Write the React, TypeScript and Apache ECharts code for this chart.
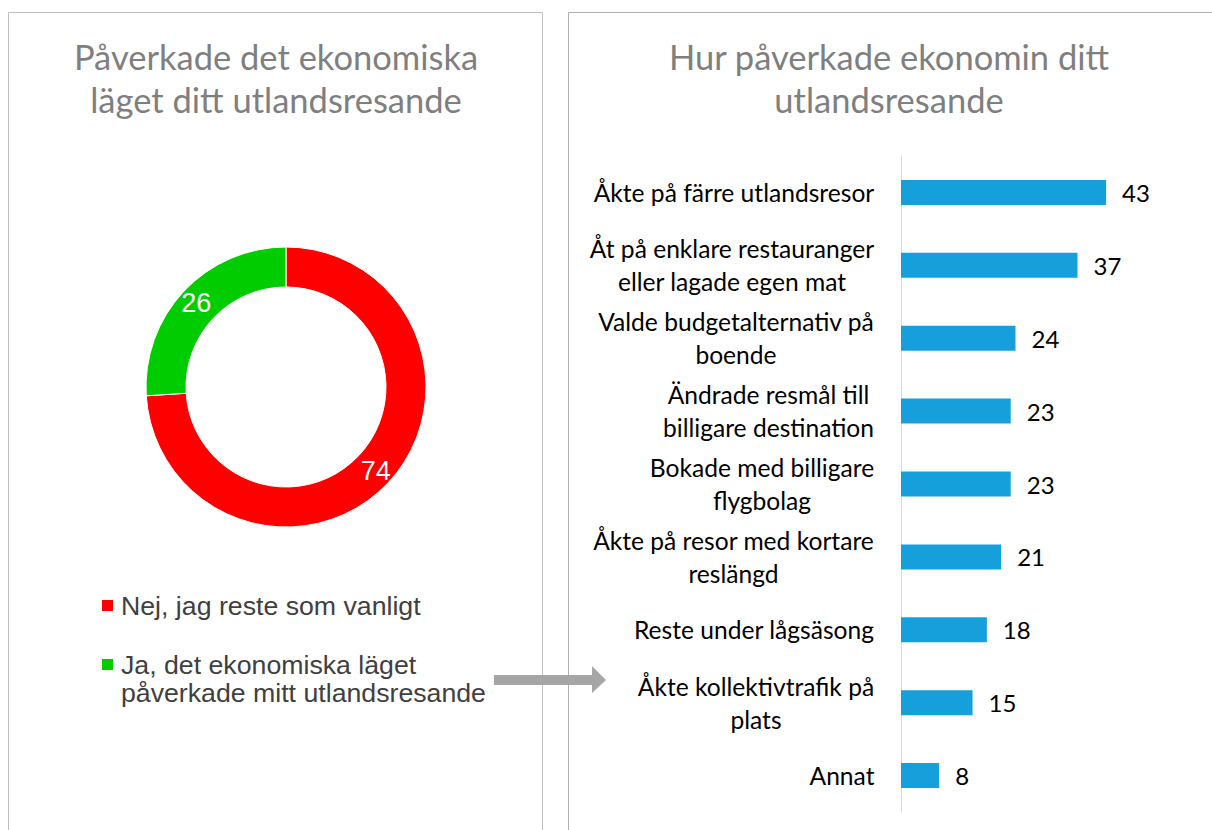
import React, { useEffect, useRef } from "react";
import * as echarts from "echarts";

const categories: string[] = [
  "Åkte på färre utlandsresor",
  "Åt på enklare restauranger\neller lagade egen mat",
  "Valde budgetalternativ på\nboende",
  "Ändrade resmål till\nbilligare destination",
  "Bokade med billigare\nflygbolag",
  "Åkte på resor med kortare\nreslängd",
  "Reste under lågsäsong",
  "Åkte kollektivtrafik på\nplats",
  "Annat",
];
const barValues: number[] = [43, 37, 24, 23, 23, 21, 18, 15, 8];

const pieNames: string[] = [
  "Nej, jag reste som vanligt",
  "Ja, det ekonomiska läget\npåverkade mitt utlandsresande",
];
const pieValues: number[] = [74, 26];
const pieColors: string[] = ["#ff0000", "#00cc00"];

const leftTitle = "Påverkade det ekonomiska\nläget ditt utlandsresande";
const rightTitle = "Hur påverkade ekonomin ditt\nutlandsresande";

const CAL = "Lato";
const ARIAL = "'Liberation Sans', Arial";
const CAT_FS = 24.6;

export default function App() {
  const ref = useRef<HTMLDivElement>(null);
  useEffect(() => {
    document.body.style.margin = "0";
    const chart = echarts.init(ref.current!, null, { renderer: "svg" });

    const ctx = document.createElement("canvas").getContext("2d")!;
    ctx.font = `${CAT_FS}px ${CAL}`;
    const rich: Record<string, any> = {};
    categories.forEach((c, i) => {
      const w = Math.max(...c.split("\n").map((l) => ctx.measureText(l).width));
      rich["c" + i] = {
        width: Math.ceil(w) + 1,
        align: "center",
        fontSize: CAT_FS,
        fontFamily: CAL,
        color: "#000000",
        lineHeight: 33,
      };
    });

    const legendItems: any[] = [];
    const legendY = [606, 665];
    pieNames.forEach((n, i) => {
      legendItems.push({
        type: "rect",
        shape: { x: 102, y: legendY[i] - 6, width: 11, height: 11 },
        style: { fill: pieColors[i] },
      });
      legendItems.push({
        type: "text",
        x: 121,
        y: legendY[i] - 14,
        style: {
          text: n,
          fontSize: 26.7,
          fontFamily: ARIAL,
          fill: "#404040",
          align: "left",
          verticalAlign: "top",
          lineHeight: 28,
        },
      });
    });

    const option: any = {
      animation: false,
      backgroundColor: "#ffffff",
      graphic: [
        {
          type: "rect",
          shape: { x: 8.5, y: 12.5, width: 534, height: 900 },
          style: { fill: "none", stroke: "#bfbfbf", lineWidth: 1 },
        },
        {
          type: "rect",
          shape: { x: 568.5, y: 12.5, width: 700, height: 900 },
          style: { fill: "none", stroke: "#b0b0b0", lineWidth: 1 },
        },
        {
          type: "text",
          x: 276,
          y: 35,
          style: {
            text: leftTitle,
            fontSize: 34.5,
            fontFamily: CAL,
            fill: "#7f7f7f",
            align: "center",
            verticalAlign: "top",
            lineHeight: 43,
          },
        },
        {
          type: "text",
          x: 889,
          y: 35,
          style: {
            text: rightTitle,
            fontSize: 34.5,
            fontFamily: CAL,
            fill: "#7f7f7f",
            align: "center",
            verticalAlign: "top",
            lineHeight: 43,
          },
        },
        ...legendItems,
        {
          type: "polygon",
          shape: {
            points: [
              [494, 675],
              [592, 675],
              [592, 666],
              [606, 680],
              [592, 693],
              [592, 685],
              [494, 685],
            ],
          },
          style: { fill: "#a6a6a6" },
        },
      ],
      grid: { left: 901, top: 156, width: 238.5, height: 656 },
      xAxis: {
        type: "value",
        min: 0,
        max: 50,
        show: false,
        splitLine: { show: false },
      },
      yAxis: {
        type: "category",
        data: categories,
        inverse: true,
        axisLine: { show: true, lineStyle: { color: "#d9d9d9", width: 1 } },
        axisTick: { show: false },
        axisLabel: {
          interval: 0,
          margin: 26,
          align: "right",
          formatter: (v: string, i: number) =>
            v
              .split("\n")
              .map((l) => `{c${i}|${l}}`)
              .join("\n"),
          rich,
        },
      },
      series: [
        {
          type: "bar",
          data: barValues,
          barWidth: 25,
          itemStyle: { color: "#15a0db" },
          label: {
            show: true,
            position: "right",
            distance: 16,
            fontSize: 24,
            fontFamily: CAL,
            color: "#000000",
          },
          emphasis: { disabled: true },
        },
        {
          type: "pie",
          center: [286, 387],
          radius: [100, 140],
          startAngle: 90,
          clockwise: true,
          label: {
            show: true,
            position: "inside",
            formatter: "{c}",
            color: "#ffffff",
            fontSize: 27,
            fontFamily: ARIAL,
          },
          labelLine: { show: false },
          itemStyle: { borderColor: "#ffffff", borderWidth: 1 },
          emphasis: { disabled: true },
          data: pieNames.map((n, i) => ({
            name: n,
            value: pieValues[i],
            itemStyle: { color: pieColors[i] },
          })),
        },
      ],
    };
    chart.setOption(option);
    return () => chart.dispose();
  }, []);
  return <div ref={ref} style={{ width: 1212, height: 830 }} />;
}
